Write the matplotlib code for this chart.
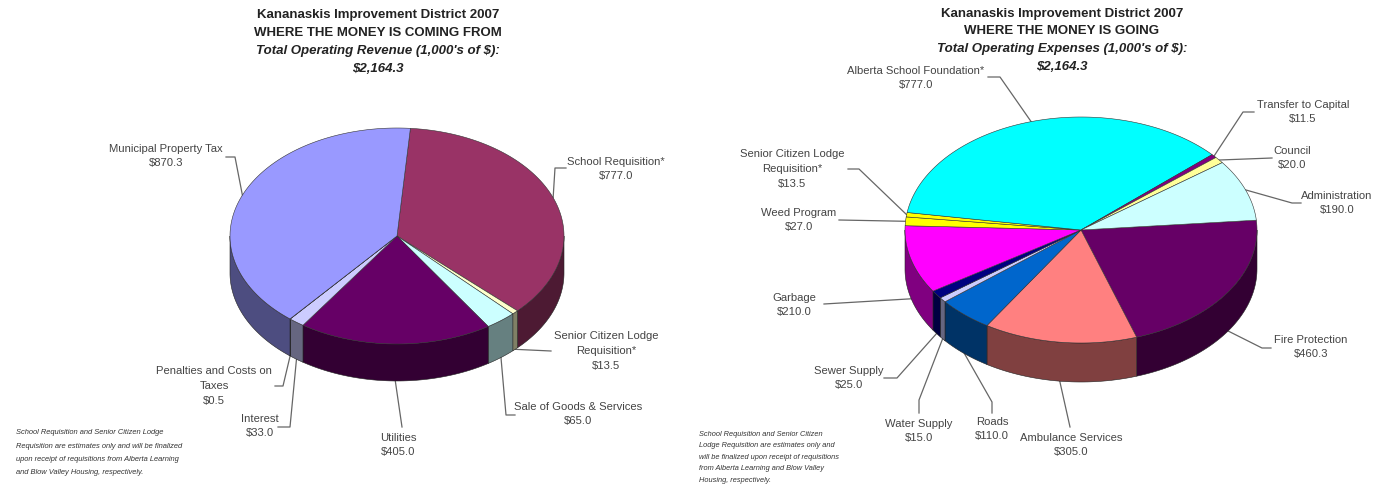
import numpy as np
import matplotlib
matplotlib.use('Agg')
import matplotlib.pyplot as plt
from matplotlib.colors import to_rgb

plt.rcParams['font.family'] = ['Liberation Sans', 'DejaVu Sans']

# =============================================================================
# DATA
# =============================================================================
rev_labels = ['School Requisition*', 'Senior Citizen Lodge\nRequisition*', 'Sale of Goods & Services',
              'Utilities', 'Interest', 'Penalties and Costs on\nTaxes', 'Municipal Property Tax']
rev_values = [777.0, 13.5, 65.0, 405.0, 33.0, 0.5, 870.3]

exp_labels = ['Fire Protection', 'Ambulance Services', 'Roads', 'Water Supply', 'Sewer Supply',
              'Garbage', 'Weed Program', 'Senior Citizen Lodge\nRequisition*',
              'Alberta School Foundation*', 'Transfer to Capital', 'Council', 'Administration']
exp_values = [460.3, 305.0, 110.0, 15.0, 25.0, 210.0, 27.0, 13.5, 777.0, 11.5, 20.0, 190.0]

rev_title = ['Kananaskis Improvement District 2007', 'WHERE THE MONEY IS COMING FROM',
             "Total Operating Revenue (1,000's of $):", '$2,164.3']
exp_title = ['Kananaskis Improvement District 2007', 'WHERE THE MONEY IS GOING',
             "Total Operating Expenses (1,000's of $):", '$2,164.3']

rev_note = ['School Requisition and Senior Citizen Lodge',
            'Requisition are estimates only and will be finalized',
            'upon receipt of requisitions from Alberta Learning',
            'and Blow Valley Housing, respectively.']
exp_note = ['School Requisition and Senior Citizen',
            'Lodge Requisition are estimates only and',
            'will be finalized upon receipt of requisitions',
            'from Alberta Learning and Blow Valley',
            'Housing, respectively.']

# =============================================================================
# STYLE / LAYOUT (pixels)
# =============================================================================
rev_colors = ['#993366', '#FFFFCC', '#CCFFFF', '#660066', '#CCCCFF', '#E8E8FF', '#9999FF']
exp_colors = ['#660066', '#FF8080', '#0066CC', '#CCCCFF', '#000080', '#FF00FF', '#FFFF00',
              '#FFFF00', '#00FFFF', '#800080', '#FFFF99', '#CCFFFF']

rev_pos = [(616, 169), (606, 351), (578, 414), (398, 445), (260, 426), (214, 386), (166, 156)]
exp_pos = [(1311, 347), (1071, 445), (992, 429), (919, 431), (849, 378), (794, 305), (799, 220),
           (792, 169), (916, 78), (1303, 112), (1292, 158), (1337, 203)]

rev_leads = [[(555, 168), (566, 168)], [(551, 351)], [(506, 415), (515, 415)], [(402, 427)],
             [(290, 427), (278, 427)], [(283, 386), (275, 386)], [(235, 157), (226, 157)]]
exp_leads = [[(1262, 348), (1271, 348)], [(1070, 427)], [(992, 402), (992, 413)],
             [(919, 400), (919, 413)], [(897, 378), (884, 378)], [(824, 304)], [(839, 220)],
             [(859, 169), (848, 169)], [(1000, 77), (988, 77)], [(1243, 112), (1254, 112)],
             [(1272, 158)], [(1292, 203), (1301, 203)]]


def draw_pie(ax, values, labels, colors, pos, leads, cx, cy, rx, ry, depth, start):
    values = np.array(values)
    edges = start + np.concatenate([[0], np.cumsum(values)]) / values.sum() * 360

    def rim(t):
        t = np.radians(t)
        return cx + rx * np.sin(t), cy - ry * np.cos(t)

    # side walls, front half only (90 to 270 degrees, also one turn round)
    for i, col in enumerate(colors):
        for shift in (0, 360):
            a = max(edges[i], 90 + shift)
            b = min(edges[i + 1], 270 + shift)
            if b <= a:
                continue
            t = np.linspace(a, b, 60)
            x, y = rim(t)
            dark = tuple(c * 0.5 for c in to_rgb(col))
            ax.fill(np.r_[x, x[::-1]], np.r_[y, y[::-1] + depth], fc=dark, ec='#222222', lw=0.4, zorder=2)

    # top faces
    for i, col in enumerate(colors):
        t = np.linspace(edges[i], edges[i + 1], 120)
        x, y = rim(t)
        ax.fill(np.r_[cx, x], np.r_[cy, y], fc=col, ec='#333333', lw=0.4, zorder=3)

    # labels and leader lines
    for i, name in enumerate(labels):
        mid = (edges[i] + edges[i + 1]) / 2
        x0, y0 = rim(mid)
        if np.cos(np.radians(mid)) < 0:
            y0 += depth
        path = [(x0, y0)] + leads[i]
        ax.plot([p[0] for p in path], [p[1] for p in path], color='#666666', lw=0.9, zorder=1)
        ax.text(pos[i][0], pos[i][1], f'{name}\n${values[i]:.1f}', ha='center', va='center',
                fontsize=8.1, color='#444444', linespacing=1.62, parse_math=False, zorder=5)


def draw_title(ax, lines, cx, ys):
    for i, line in enumerate(lines):
        style = 'italic' if i >= 2 else 'normal'
        ax.text(cx, ys[i], line, ha='center', va='center', fontsize=9.5, fontweight='bold',
                style=style, color='#222222', parse_math=False)


def draw_note(ax, lines, x, ys, size):
    for line, y in zip(lines, ys):
        ax.text(x, y, line, ha='left', va='center', fontsize=size, style='italic', color='#333333',
                parse_math=False)


fig = plt.figure(figsize=(13.85, 4.86), dpi=100)
ax = fig.add_axes([0, 0, 1, 1])
ax.set_xlim(0, 1385)
ax.set_ylim(486, 0)
ax.axis('off')

draw_pie(ax, rev_values, rev_labels, rev_colors, rev_pos, rev_leads, 397, 236, 167, 108, 37, 4.6)
draw_pie(ax, exp_values, exp_labels, exp_colors, exp_pos, exp_leads, 1081, 230, 176, 113, 39, 85)

draw_title(ax, rev_title, 378, [15, 33, 51, 69])
draw_title(ax, exp_title, 1062, [14, 31, 49, 67])
draw_note(ax, rev_note, 16, [432, 446, 459, 472], 5.4)
draw_note(ax, exp_note, 699, [434, 445, 457, 468, 480], 5.3)

plt.savefig('out.png', dpi=100)
